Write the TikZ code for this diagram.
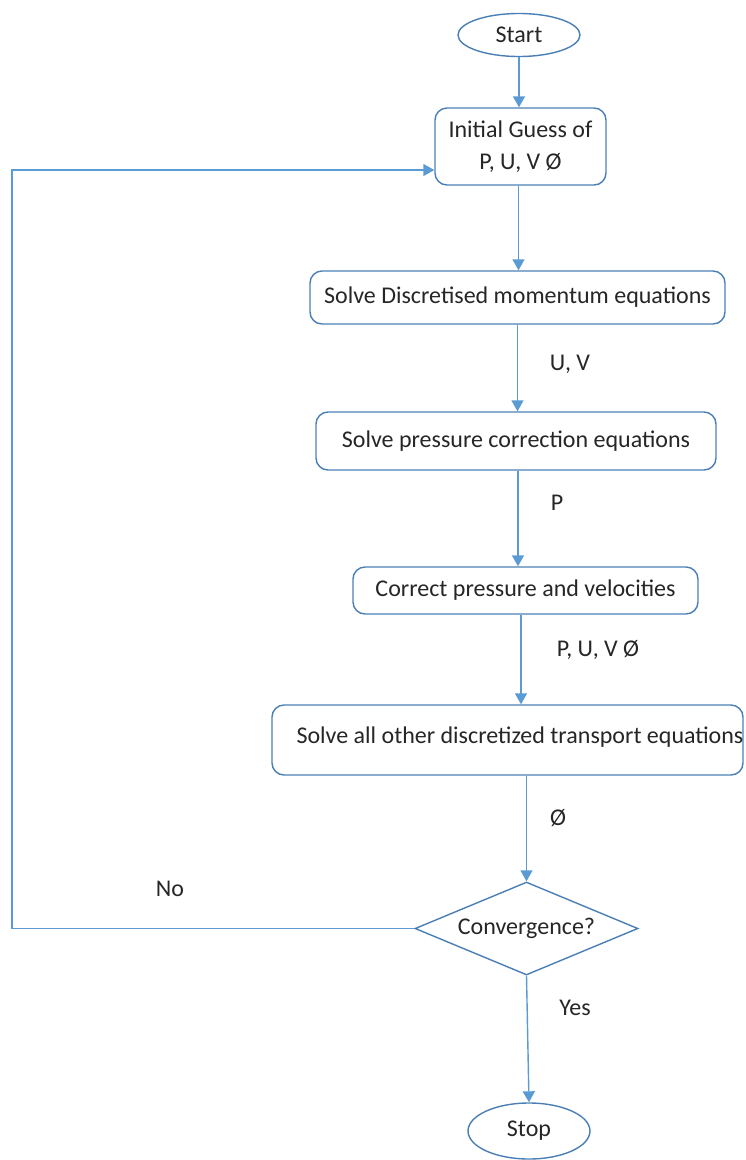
\documentclass[tikz,border=0pt]{standalone}
\usepackage{fontspec}
\setmainfont{Carlito}
\usetikzlibrary{shapes.geometric,arrows.meta}
\definecolor{lineblue}{HTML}{5B9BD5}
\definecolor{boxblue}{HTML}{4A7FB5}
\definecolor{txt}{HTML}{262626}
\begin{document}
\begin{tikzpicture}[x=1pt,y=-1pt,
  font=\fontsize{24}{32}\selectfont, text=txt,
  box/.style={draw=boxblue, line width=1.4pt, rounded corners=12pt, inner sep=0pt, align=center},
  term/.style={ellipse, draw=boxblue, line width=1.4pt, inner sep=0pt},
  dec/.style={diamond, draw=boxblue, line width=1.4pt, inner sep=0pt, aspect=2.4},
  arr/.style={draw=lineblue, line width=1.4pt, -{Triangle[length=11pt,width=12pt]}},
  lbl/.style={inner sep=0pt}]
\useasboundingbox (0,0) rectangle (745,1160);
\node[term, minimum width=122pt, minimum height=43pt] (start) at (519,35) {Start};
\node[box, minimum width=171pt, minimum height=77pt] (init) at (520.5,146.5) {Initial Guess of\\P, U, V Ø};
\node[box, minimum width=415pt, minimum height=53pt] (mom) at (517.5,297.5) {Solve Discretised momentum equations};
\node[box, minimum width=400pt, minimum height=58pt] (pres) at (516,441) {Solve pressure correction equations};
\node[box, minimum width=345pt, minimum height=47pt] (corr) at (525.5,590.5) {Correct pressure and velocities};
\node[box, minimum width=471pt, minimum height=70pt] (trans) at (507.5,740) {};
\node[lbl] (transtext) at (520,737) {Solve all other discretized transport equations};
\node[dec, minimum width=223pt, minimum height=93pt] (conv) at (526.5,928.5) {Convergence?};
\node[term, minimum width=122pt, minimum height=56pt] (stop) at (529,1131) {Stop};

\node[lbl] (l1) at (570,364) {U, V};
\node[lbl] (l2) at (557,503) {P};
\node[lbl] (l3) at (598,650) {P, U, V Ø};
\node[lbl] (l4) at (558,818) {Ø};
\node[lbl] (l5) at (170,889) {No};
\node[lbl] (l6) at (575,1008) {Yes};

\draw[arr] (start.south) -- (start.south |- init.north);
\draw[arr] ([xshift=-2pt]init.south) -- ([xshift=-2pt]init.south |- mom.north);
\draw[arr] (mom.south) -- (mom.south |- pres.north);
\draw[arr] ([xshift=2pt]pres.south) -- ([xshift=2pt]pres.south |- corr.north);
\draw[arr] ([xshift=-4.5pt]corr.south) -- ([xshift=-4.5pt]corr.south |- trans.north);
\draw[arr] (conv.north |- trans.south) -- (conv.north);
\draw[arr] (conv.south) -- (stop.north);
\coordinate (lb) at (12,928.5);
\coordinate (lt) at (12,170);
\draw[arr] (conv.west) -- (lb) -- (lt) -- (lt -| init.west);
\end{tikzpicture}
\end{document}
